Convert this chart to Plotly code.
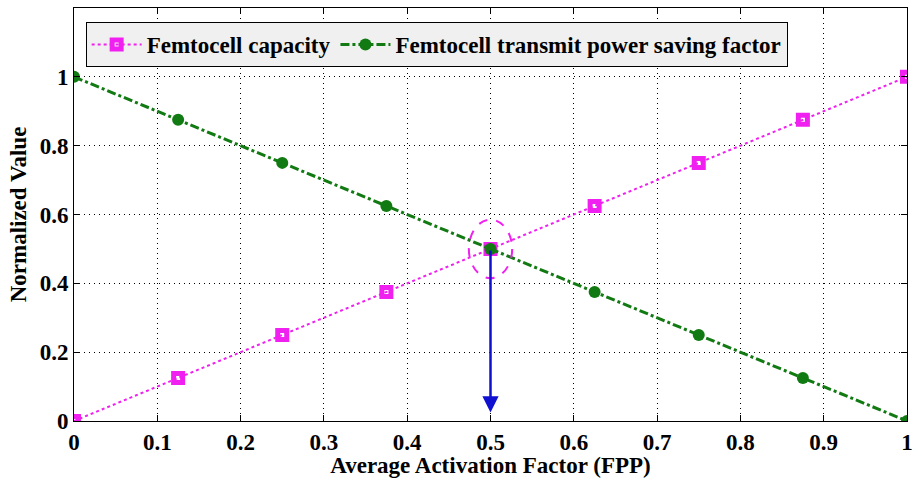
import plotly.graph_objects as go

x_vals = [0, 0.125, 0.25, 0.375, 0.5, 0.625, 0.75, 0.875, 1.0]
capacity = [0, 0.125, 0.25, 0.375, 0.5, 0.625, 0.75, 0.875, 1.0]
power_saving = [1.0, 0.875, 0.75, 0.625, 0.5, 0.375, 0.25, 0.125, 0.0]
x_ticks = [0, 0.1, 0.2, 0.3, 0.4, 0.5, 0.6, 0.7, 0.8, 0.9, 1]
x_tick_labels = ["0", "0.1", "0.2", "0.3", "0.4", "0.5", "0.6", "0.7", "0.8", "0.9", "1"]
y_ticks = [0, 0.2, 0.4, 0.6, 0.8, 1]
y_tick_labels = ["0", "0.2", "0.4", "0.6", "0.8", "1"]
highlight_x = 0.5
highlight_y = 0.5
arrow_end_y = 0.025

MAG = "#f020f0"
GRN = "#127a12"
FONT = "Liberation Serif, Times New Roman, serif"
FS = 23

fig = go.Figure()
fig.add_trace(go.Scatter(
    x=x_vals, y=capacity, mode="lines+markers", name="<b>Femtocell capacity</b>",
    line=dict(color=MAG, width=2, dash="dot"),
    marker=dict(symbol="square-open", size=9, color=MAG, line=dict(color=MAG, width=5)),
))
fig.add_trace(go.Scatter(
    x=x_vals, y=power_saving, mode="lines+markers", name="<b>Femtocell transmit power saving factor</b>",
    line=dict(color=GRN, width=3, dash="dashdot"),
    marker=dict(symbol="circle", size=12, color=GRN),
))

fig.add_shape(type="circle", xref="x", yref="y",
              x0=highlight_x - 0.026, x1=highlight_x + 0.026,
              y0=highlight_y - 0.085, y1=highlight_y + 0.085,
              line=dict(color=MAG, width=2, dash="dash"))

fig.add_annotation(x=highlight_x, y=arrow_end_y, ax=highlight_x, ay=highlight_y,
                   xref="x", yref="y", axref="x", ayref="y", text="",
                   showarrow=True, arrowhead=2, arrowsize=1.3, arrowwidth=2.5,
                   arrowcolor="#1010d0")

axis_common = dict(
    showline=True, linecolor="black", linewidth=1, mirror="ticks",
    ticks="inside", ticklen=6, tickcolor="black",
    showgrid=True, gridcolor="black", gridwidth=1, griddash="1px,4px",
    zeroline=False, automargin=False, ticklabeloverflow="allow",
    tickfont=dict(family=FONT, size=FS, color="black"),
)

fig.update_xaxes(range=[0, 1], tickvals=x_ticks, ticktext=[f"<b>{t}</b>" for t in x_tick_labels],
                 title=dict(text="<b>Average Activation Factor (FPP)</b>", standoff=0,
                            font=dict(family=FONT, size=FS, color="black")),
                 **axis_common)
fig.update_yaxes(range=[0, 1.2], tickvals=y_ticks, ticktext=[f"<b>{t}</b>" for t in y_tick_labels],
                 ticklabelstandoff=0,
                 title=dict(text="<b>Normalized Value</b>", standoff=6,
                            font=dict(family=FONT, size=FS, color="black")),
                 **axis_common)

fig.update_layout(
    width=913, height=478,
    margin=dict(l=74, r=6, t=8, b=57),
    plot_bgcolor="white", paper_bgcolor="white",
    font=dict(family=FONT, color="black"),
    legend=dict(orientation="h", x=0.014, y=0.966, xanchor="left", yanchor="top",
                bgcolor="#f0f0f0", bordercolor="black", borderwidth=1,
                font=dict(family=FONT, size=FS, color="black"),
                tracegroupgap=0, itemwidth=50),
)

fig.write_html("out.html", config={"displayModeBar": False},
               post_script="document.body.style.margin='0px';document.body.style.overflow='hidden';")
